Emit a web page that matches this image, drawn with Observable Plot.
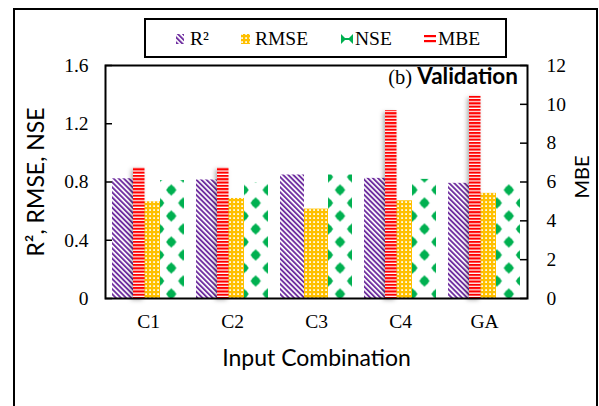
<!DOCTYPE html>
<html><head><meta charset="utf-8">
<script src="https://cdn.jsdelivr.net/npm/d3@7"></script>
<script src="https://cdn.jsdelivr.net/npm/@observablehq/plot@0.6"></script>
<style>
html,body{margin:0;padding:0;background:#fff}
#wrap{position:relative;width:599px;height:406px;overflow:hidden;background:#fff}
#chart{position:absolute;left:0;top:0}
#over{position:absolute;left:0;top:0;pointer-events:none}
.chart g[aria-label="x-axis tick label"]{font-size:19.5px}
</style>
</head><body>
<div id="wrap">
<div id="chart"></div>
<svg id="over" width="599" height="406" xmlns="http://www.w3.org/2000/svg">
  <defs>
    <pattern id="pR2" patternUnits="userSpaceOnUse" width="3.6" height="3.6" patternTransform="rotate(-45)">
      <rect width="3.6" height="3.6" fill="#fff"/>
      <rect width="1.9" height="3.6" fill="#7030A0"/>
    </pattern>
    <pattern id="pRMSE" patternUnits="userSpaceOnUse" width="4" height="4">
      <rect width="4" height="4" fill="#FFC000"/>
      <rect x="1.2" y="1.2" width="1.8" height="1.8" fill="#fff" opacity="0.9"/>
    </pattern>
    <pattern id="pNSE" patternUnits="userSpaceOnUse" x="159.2" y="183.5" width="24.114" height="26">
      <g fill="#00B050">
        <polygon points="12.057,0.8 17.3,6.5 12.057,12.2 6.8,6.5"/>
        <circle cx="12.057" cy="6.5" r="4"/>
        <polygon points="0,13.8 5.25,19.5 0,25.2 -5.25,19.5"/>
        <circle cx="0" cy="19.5" r="4"/>
        <polygon points="24.114,13.8 29.36,19.5 24.114,25.2 18.86,19.5"/>
        <circle cx="24.114" cy="19.5" r="4"/>
      </g>
    </pattern>
    <pattern id="pMBE" patternUnits="userSpaceOnUse" width="4" height="3.3">
      <rect width="4" height="3.3" fill="#fff"/>
      <rect width="4" height="2.1" fill="#FF0000"/>
    </pattern>
  </defs>
  <g id="deco"></g>
</svg>
</div>
<script>
// ---- data ----
const categories = ["C1", "C2", "C3", "C4", "GA"];
const r2Values   = [0.822, 0.814, 0.848, 0.825, 0.791];
const rmseValues = [0.664, 0.687, 0.614, 0.671, 0.722];
const nseValues  = [0.810, 0.795, 0.848, 0.818, 0.786];
const mbeValues  = [6.73, 6.73, 0, 9.68, 10.42];
const seriesNames = ["R²", "RMSE", "NSE", "MBE"];
const leftTicks  = [0, 0.4, 0.8, 1.2, 1.6];
const rightTicks = [0, 2, 4, 6, 8, 10, 12];
const leftTitle = "R², RMSE, NSE";
const rightTitle = "MBE";
const xTitle = "Input Combination";
const panelTag = "(b)";
const panelName = "Validation";

// ---- build ----
const leftMax = 1.6, rightMax = 12;
const k = leftMax / rightMax; // secondary axis -> primary axis
const rows = categories.map((c, i) => ({cat: c, r2: r2Values[i], rmse: rmseValues[i], nse: nseValues[i], mbe: mbeValues[i]}));
const W = 599, H = 406, mL = 105, mR = 72, mT = 65, mB = 108;
const innerW = W - mL - mR;
const serif = "'Liberation Serif', 'Times New Roman', serif";
const sans = "Lato, 'Open Sans', sans-serif";

const plot = Plot.plot({
  width: W, height: H,
  marginLeft: mL, marginRight: mR, marginTop: mT, marginBottom: mB,
  className: "chart",
  style: {fontFamily: serif, fontSize: "19.5px", color: "#000", background: "transparent", overflow: "visible"},
  x: {domain: categories, paddingInner: 0.147, paddingOuter: 0.0735, label: null, axis: null},
  y: {domain: [0, leftMax], axis: null},
  marks: [
    Plot.barY(rows, {x: "cat", y: "r2", fill: "url(#pR2)", insetRight: 48}),
    Plot.barY(rows, {x: "cat", y: "rmse", fill: "url(#pRMSE)", insetLeft: 24, insetRight: 24}),
    Plot.barY(rows, {x: "cat", y: "nse", fill: "url(#pNSE)", insetLeft: 48}),
    Plot.barY(rows, {x: "cat", y: d => d.mbe * k, fill: "url(#pMBE)", insetLeft: 21, insetRight: 39.5}),
    Plot.ruleY(leftTicks, {stroke: "#000", strokeWidth: 1.5, insetRight: innerW - 7}),
    Plot.ruleY(rightTicks.map(v => v * k), {stroke: "#000", strokeWidth: 1.5, insetLeft: innerW - 7}),
    Plot.frame({stroke: "#000", strokeWidth: 2}),
    Plot.axisY({anchor: "left", ticks: leftTicks, tickSize: 0, tickPadding: 17, tickFormat: d => String(d), label: null}),
    Plot.axisY({anchor: "right", ticks: rightTicks.map(v => v * k), tickSize: 0, tickPadding: 19, tickFormat: d => String(Math.round(d / k)), label: null}),
    Plot.axisX({anchor: "bottom", tickSize: 0, tickPadding: 16, label: null}),
    Plot.text([xTitle], {frameAnchor: "bottom", lineAnchor: "top", textAnchor: "middle", dy: 51, fontFamily: sans, fontSize: 23, text: d => d}),
    Plot.text([leftTitle], {frameAnchor: "left", textAnchor: "middle", lineAnchor: "middle", dx: -69, rotate: -90, fontFamily: sans, fontSize: 23, text: d => d}),
    Plot.text([rightTitle], {frameAnchor: "right", textAnchor: "middle", lineAnchor: "middle", dx: 55, dy: -5, rotate: -90, fontFamily: sans, fontSize: 20, text: d => d})
  ]
});
document.getElementById("chart").appendChild(plot);
// soft shadow on the secondary-axis (MBE) bars, as in the reference
const barGroups = plot.querySelectorAll('g[aria-label="bar"]');
if (barGroups[3]) barGroups[3].style.filter = "drop-shadow(-2px 2px 2px rgba(0,0,0,0.3))";

// ---- decorations: outer frame, legend, panel title ----
const g = d3.select("#deco");
g.append("path").attr("d", "M14,412 V9 H597 V412").attr("fill", "none").attr("stroke", "#000").attr("stroke-width", 2);
g.append("rect").attr("x", 145).attr("y", 19).attr("width", 361).attr("height", 38).attr("fill", "#fff").attr("stroke", "#000").attr("stroke-width", 2);
const legX = [176, 241, 341, 424];
const legTextX = [190, 255, 355, 438];
// swatches
g.append("rect").attr("x", legX[0]).attr("y", 34).attr("width", 8).attr("height", 10).attr("fill", "url(#pR2)");
g.append("rect").attr("x", legX[1]).attr("y", 34).attr("width", 9).attr("height", 10).attr("fill", "url(#pRMSE)");
const ns = g.append("g").attr("fill", "#00B050");
ns.append("polygon").attr("points", `${legX[2]},34 ${legX[2]+5},39 ${legX[2]},44`);
ns.append("polygon").attr("points", `${legX[2]+12},34 ${legX[2]+7},39 ${legX[2]+12},44`);
ns.append("rect").attr("x", legX[2]+4).attr("y", 38).attr("width", 4).attr("height", 2);
g.append("rect").attr("x", legX[3]).attr("y", 35).attr("width", 12).attr("height", 2.2).attr("fill", "#FF0000");
g.append("rect").attr("x", legX[3]).attr("y", 40).attr("width", 12).attr("height", 2.2).attr("fill", "#FF0000");
seriesNames.forEach((s, i) => {
  g.append("text").attr("x", legTextX[i]).attr("y", 45).attr("font-family", serif).attr("font-size", 19.5).text(s);
});
const t = g.append("text").attr("x", 518).attr("y", 84).attr("text-anchor", "end");
t.append("tspan").attr("font-family", serif).attr("font-size", 20.5).text(panelTag + " ");
t.append("tspan").attr("font-family", sans).attr("font-size", 22.5).attr("font-weight", "bold").text(panelName);
</script>
</body></html>
